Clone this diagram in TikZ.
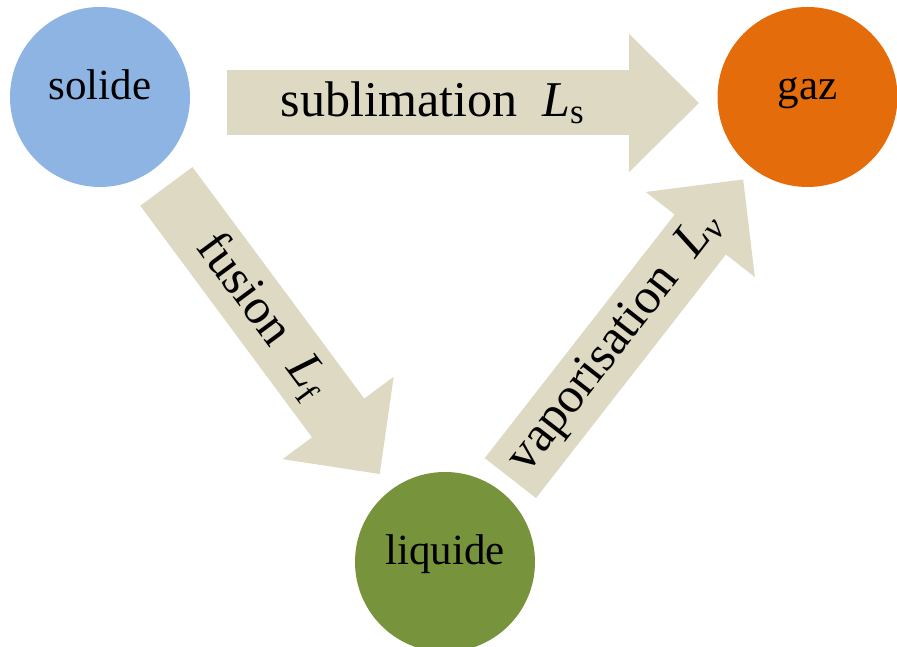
\documentclass[tikz,border=0pt]{standalone}
\usepackage{fontspec}
\setmainfont{Liberation Serif}
\usetikzlibrary{arrows.meta}

\definecolor{solideblue}{RGB}{141,180,226}
\definecolor{gazorange}{RGB}{228,108,10}
\definecolor{liquidegreen}{RGB}{119,147,60}
\definecolor{changebeige}{RGB}{221,217,195}

\begin{document}
\begin{tikzpicture}[
    phase/.style={circle, minimum size=3.6cm, inner sep=0pt,
        text height=0.7em, text depth=0.4em, font=\fontsize{24.5}{30}\selectfont},
    change/.style={draw=changebeige, line width=1.3cm,
        -{Triangle[length=1.4cm, width=2.68cm]}},
    changelabel/.style={pos=0.46, sloped, font=\fontsize{28.5}{34}\selectfont}
]
    \useasboundingbox (0,0) rectangle (17.94,12.94);

    \node[phase, fill=solideblue] (solide) at (2.0,11.0) {solide};
    \node[phase, fill=gazorange] (gaz) at (16.15,11.0) {gaz};
    \node[phase, fill=liquidegreen] (liquide) at (8.9,1.7) {liquide};

    \draw[change, shorten <=0.74cm, shorten >=0.36cm]
        ([yshift=-0.12cm]solide.east) -- ([yshift=-0.12cm]gaz.west)
        node[changelabel] {sublimation\enspace\textit{L}\textsubscript{s}};
    \draw[change, shorten <=0.42cm, shorten >=0.38cm] (solide) -- (liquide)
        node[changelabel] {fusion\enspace\textit{L}\textsubscript{f}};
    \draw[change, shorten <=0.32cm, shorten >=0.28cm] (liquide) -- (gaz)
        node[changelabel] {vaporisation\enspace\textit{L}\textsubscript{\textit{v}}};
\end{tikzpicture}
\end{document}
